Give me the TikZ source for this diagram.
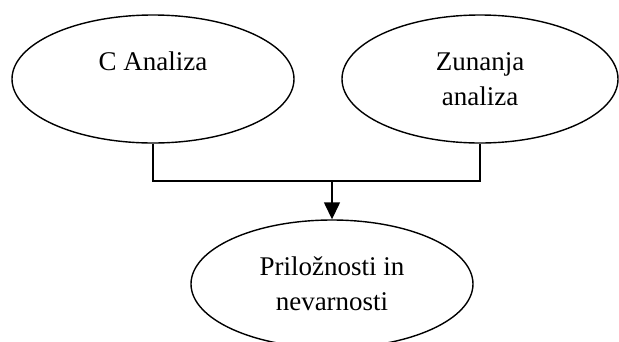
\documentclass[tikz,border=0pt]{standalone}
\usepackage{fontspec}
\setmainfont{Liberation Serif}
\usetikzlibrary{shapes.geometric,arrows.meta}
\tikzset{
  oval/.style={draw, ellipse, line width=1.4pt, inner sep=0pt,
    minimum width=282pt, minimum height=128pt, align=center,
    font=\fontsize{27}{35}\selectfont},
  link/.style={line width=1.4pt}
}
\begin{document}
\begin{tikzpicture}[x=1pt, y=-1pt]
            \useasboundingbox (0,0) rectangle (619,341);
            % analize
            \node[oval] (ca) at (153,79) {C Analiza\\ \mbox{}};
            \node[oval, minimum width=276pt] (za) at (480,79) {Zunanja\\analiza};

            % rezultat
            \node[oval] (pn) at (332,284) {Priložnosti in\\nevarnosti};

            % povezave
            \coordinate (sk) at (332,181);
            \draw[link] (ca.south) |- (sk) -| (za.south);
            \draw[link, -{Triangle[width=16pt,length=17pt]}] (sk) -- (pn.north);
        \end{tikzpicture}
\end{document}
